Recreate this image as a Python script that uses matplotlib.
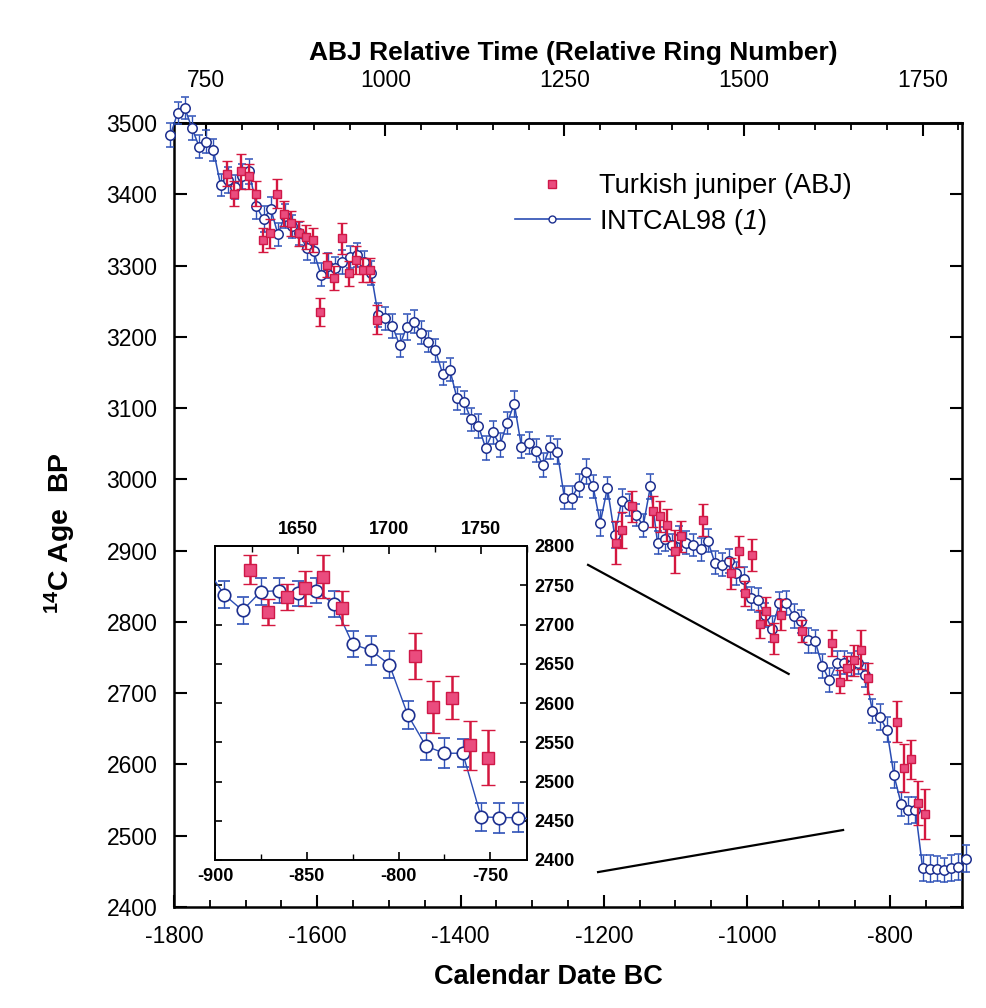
import matplotlib
matplotlib.use('Agg')
import matplotlib.pyplot as plt
from matplotlib.ticker import MultipleLocator, FixedLocator, NullLocator
from matplotlib.lines import Line2D

plt.rcParams['font.family'] = ['Liberation Sans', 'DejaVu Sans']
plt.rcParams['mathtext.fontset'] = 'custom'
plt.rcParams['mathtext.rm'] = 'Liberation Sans'
plt.rcParams['mathtext.it'] = 'Liberation Sans:italic'
plt.rcParams['mathtext.sf'] = 'Liberation Sans:italic'
plt.rcParams['mathtext.bf'] = 'Liberation Sans:bold'

# ---------------- data ----------------
intcal_x = [-1805, -1795, -1785, -1775, -1765, -1755, -1745, -1735, -1725, -1715,
            -1705, -1695, -1685, -1675, -1665, -1655, -1645, -1635, -1625, -1615,
            -1605, -1595, -1585, -1575, -1565, -1555, -1545, -1535, -1525, -1515,
            -1505, -1495, -1485, -1475, -1465, -1455, -1445, -1435, -1425, -1415,
            -1405, -1395, -1385, -1375, -1365, -1355, -1345, -1335, -1325, -1315,
            -1305, -1295, -1285, -1275, -1265, -1255, -1245, -1235, -1225, -1215,
            -1205, -1195, -1185, -1175, -1165, -1155, -1145, -1135, -1125, -1115,
            -1105, -1095, -1085, -1075, -1065, -1055, -1045, -1035, -1025, -1015,
            -1005, -995, -985, -975, -965, -955, -945, -935, -925, -915,
            -905, -895, -885, -875, -865, -855, -845, -835, -825, -815,
            -805, -795, -785, -775, -765, -755, -745, -735, -725, -715,
            -705, -695]
intcal_y = [3483, 3514, 3521, 3493, 3467, 3474, 3462, 3413, 3420, 3410,
            3425, 3432, 3383, 3365, 3380, 3344, 3370, 3355, 3345, 3325,
            3320, 3287, 3300, 3296, 3305, 3312, 3315, 3305, 3290, 3231,
            3226, 3215, 3188, 3214, 3221, 3206, 3193, 3181, 3148, 3154,
            3114, 3108, 3084, 3075, 3044, 3066, 3048, 3079, 3106, 3046,
            3051, 3040, 3020, 3045, 3039, 2974, 2974, 2991, 3011, 2990,
            2939, 2988, 2922, 2970, 2964, 2950, 2935, 2990, 2911, 2916,
            2908, 2918, 2911, 2908, 2902, 2914, 2883, 2880, 2885, 2868,
            2860, 2833, 2831, 2810, 2790, 2826, 2827, 2808, 2801, 2774,
            2773, 2738, 2718, 2742, 2743, 2740, 2743, 2726, 2675, 2667,
            2649, 2585, 2545, 2536, 2536, 2455, 2454, 2454, 2452, 2455,
            2456, 2468]
intcal_err = [17, 16, 16, 17, 16, 16, 16, 16, 18, 17,
              17, 17, 17, 18, 16, 16, 17, 16, 16, 17,
              17, 16, 17, 16, 17, 16, 17, 16, 17, 17,
              16, 17, 16, 18, 16, 16, 15, 16, 16, 16,
              16, 16, 16, 17, 17, 16, 17, 16, 18, 16,
              16, 16, 17, 16, 17, 16, 16, 16, 17, 16,
              18, 16, 18, 17, 16, 16, 16, 17, 16, 17,
              16, 17, 16, 16, 16, 16, 16, 16, 17, 16,
              17, 16, 17, 17, 18, 16, 17, 17, 16, 17,
              16, 17, 17, 17, 16, 16, 16, 17, 17, 18,
              17, 18, 17, 19, 18, 18, 19, 18, 17, 18,
              18, 19]

abj_x = [-1726, -1716, -1706, -1696, -1686, -1676, -1666, -1656, -1646, -1636,
         -1626, -1616, -1606, -1596, -1586, -1576, -1566, -1556, -1546, -1536,
         -1526, -1516,
         -1183, -1174, -1161, -1131, -1122, -1112, -1101, -1092, -1061, -1022,
         -1011, -1003, -993, -982, -973, -962, -952, -924,
         -881, -871, -861, -851, -841, -831,
         -791, -781, -771, -761, -751]
abj_y = [3429, 3401, 3432, 3425, 3401, 3336, 3345, 3401, 3373, 3359,
         3345, 3340, 3336, 3235, 3301, 3282, 3338, 3289, 3308, 3294,
         3294, 3224,
         2911, 2929, 2962, 2955, 2948, 2936, 2899, 2920, 2943, 2868,
         2899, 2840, 2894, 2797, 2815, 2777, 2810, 2787,
         2770, 2716, 2735, 2746, 2761, 2721,
         2660, 2595, 2607, 2546, 2530]
abj_err = [17, 17, 24, 17, 17, 17, 20, 20, 17, 17,
           17, 17, 17, 20, 17, 17, 22, 17, 20, 17,
           17, 20,
           30, 25, 22, 22, 22, 22, 30, 22, 22, 22,
           22, 17, 22, 20, 20, 22, 22, 15,
           18, 16, 17, 22, 27, 22,
           29, 33, 27, 31, 35]

ring_offset = 2505  # relative ring number = calendar year + offset

main_xticks = [-1800, -1600, -1400, -1200, -1000, -800]
main_xticklabels = ['-1800', '-1600', '-1400', '-1200', '-1000', '-800']
main_yticks = [2400, 2500, 2600, 2700, 2800, 2900, 3000, 3100, 3200, 3300, 3400, 3500]
ring_ticks = [750, 1000, 1250, 1500, 1750]
inset_xticks = [-900, -850, -800, -750]
inset_xticklabels = ['-900', '-850', '-800', '-750']
inset_yticks = [2400, 2450, 2500, 2550, 2600, 2650, 2700, 2750, 2800]
inset_ring_ticks = [1650, 1700, 1750]

# pointer lines from the inset to the main series (main-axis data units)
pointer_upper_x = [-1222, -942]
pointer_upper_y = [2880, 2727]
pointer_lower_x = [-1208, -866]
pointer_lower_y = [2449, 2508]

# ---------------- style ----------------
blue_line = '#2a4db3'
blue_mk = '#1d2f8f'
blue_err = '#2f52b8'
pink_face = '#ea4c7e'
pink_edge = '#cf1848'
pink_err = '#d4173f'

W, H = 986, 1008
fig = plt.figure(figsize=(W / 100, H / 100), dpi=100)
fig.patch.set_facecolor('white')

def fx(px):
    return px / W

def fy(py):
    return 1 - py / H

ax = fig.add_axes([fx(174), fy(907), (962 - 174) / W, (907 - 123) / H])

cont_b = ax.errorbar(intcal_x, intcal_y, yerr=intcal_err, fmt='-o', color=blue_line,
                     mfc='white', mec=blue_mk, ms=6.8, mew=1.1, lw=1.1,
                     ecolor=blue_err, elinewidth=1.0, capsize=3, capthick=1.0,
                     zorder=3)
cont_p = ax.errorbar(abj_x, abj_y, yerr=abj_err, fmt='s', color=pink_face,
                     mfc=pink_face, mec=pink_edge, ms=6, mew=1.0,
                     ecolor=pink_err, elinewidth=1.7, capsize=3.5, capthick=1.7,
                     zorder=4)
for art in cont_b.get_children():
    art.set_clip_on(False)

ax.plot(pointer_upper_x, pointer_upper_y, color='black', lw=1.6, zorder=2)
ax.plot(pointer_lower_x, pointer_lower_y, color='black', lw=1.6, zorder=2)

ax.set_xlim(-1800, -700)
ax.set_ylim(2400, 3500)
ax.set_xticks(main_xticks)
ax.set_xticklabels(main_xticklabels)
ax.xaxis.set_minor_locator(MultipleLocator(50))
ax.set_yticks(main_yticks)
ax.yaxis.set_minor_locator(NullLocator())
ax.tick_params(axis='x', which='major', direction='in', length=9, width=1.5,
               labelsize=16.5, pad=13, top=False, bottom=True)
ax.tick_params(axis='x', which='minor', direction='in', length=5, width=1.3,
               top=False, bottom=True)
ax.tick_params(axis='y', which='major', direction='in', length=9, width=1.5,
               labelsize=16.5, pad=12, left=True, right=True, labelright=False)
for s in ax.spines.values():
    s.set_linewidth(1.8)

sec = ax.secondary_xaxis('top', functions=(lambda x: x + ring_offset,
                                           lambda r: r - ring_offset))
sec.xaxis.set_major_locator(FixedLocator(ring_ticks))
sec.xaxis.set_minor_locator(MultipleLocator(50))
sec.tick_params(which='major', direction='in', length=9, width=1.5,
                labelsize=16.5, pad=22)
sec.tick_params(which='minor', direction='in', length=5, width=1.3)
sec.spines['top'].set_linewidth(1.8)

handles = [Line2D([], [], ls='none', marker='s', mfc=pink_face, mec=pink_edge, ms=6),
           Line2D([], [], ls='-', color=blue_line, lw=1.2, marker='o',
                  mfc='white', mec=blue_mk, ms=5, mew=1.0)]
ax.legend(handles, ['Turkish juniper (ABJ)', r'INTCAL98 ($\mathsf{1}$)'],
          loc='upper left', bbox_to_anchor=(0.433, 0.936), frameon=False,
          fontsize=19.5, handlelength=2.75, handletextpad=0.35, labelspacing=0.28,
          borderpad=0, borderaxespad=0, numpoints=1)

fig.text(fx(548), fy(977), 'Calendar Date BC', fontsize=19.5, fontweight='bold',
         ha='center', va='center')
fig.text(fx(573), fy(53), 'ABJ Relative Time (Relative Ring Number)', fontsize=19,
         fontweight='bold', ha='center', va='center')
fig.text(fx(60), fy(533), r'$^{\mathbf{14}}$C Age  BP', fontsize=20.5, fontweight='bold',
         ha='center', va='center', rotation=90)

# ---------------- inset ----------------
axin = fig.add_axes([fx(215), fy(860), (527 - 215) / W, (860 - 546) / H], zorder=5)
axin.set_facecolor('white')
axin.errorbar(intcal_x, intcal_y, yerr=intcal_err, fmt='-o', color=blue_line,
              mfc='white', mec=blue_mk, ms=9, mew=1.2, lw=1.0,
              ecolor=blue_err, elinewidth=1.0, capsize=4, capthick=1.0, zorder=3)
axin.errorbar(abj_x, abj_y, yerr=abj_err, fmt='s', color=pink_face,
              mfc=pink_face, mec=pink_edge, ms=8, mew=1.0,
              ecolor=pink_err, elinewidth=1.8, capsize=5, capthick=1.8, zorder=4)
axin.set_xlim(-900, -730)
axin.set_ylim(2400, 2800)
axin.set_xticks(inset_xticks)
axin.set_xticklabels(inset_xticklabels, fontweight='bold')
axin.xaxis.set_minor_locator(MultipleLocator(25))
axin.set_yticks(inset_yticks)
axin.set_yticklabels([str(v) for v in inset_yticks], fontweight='bold')
axin.yaxis.tick_right()
axin.tick_params(axis='x', which='major', direction='in', length=6, width=1.2,
                 labelsize=13, pad=6, top=False)
axin.tick_params(axis='x', which='minor', direction='in', length=4, width=1.0, top=False)
axin.tick_params(axis='y', which='major', direction='in', length=5, width=1.2,
                 labelsize=13, pad=5, left=True, right=True,
                 labelleft=False, labelright=True)
for s in axin.spines.values():
    s.set_linewidth(1.4)

secin = axin.secondary_xaxis('top', functions=(lambda x: x + ring_offset,
                                               lambda r: r - ring_offset))
secin.set_xticks(inset_ring_ticks)
secin.set_xticklabels([str(v) for v in inset_ring_ticks], fontweight='bold')
secin.xaxis.set_minor_locator(MultipleLocator(25))
secin.tick_params(which='major', direction='in', length=6, width=1.2,
                  labelsize=13, pad=6)
secin.tick_params(which='minor', direction='in', length=4, width=1.0)
secin.spines['top'].set_linewidth(1.4)

fig.savefig('out.png', dpi=100, facecolor='white')
